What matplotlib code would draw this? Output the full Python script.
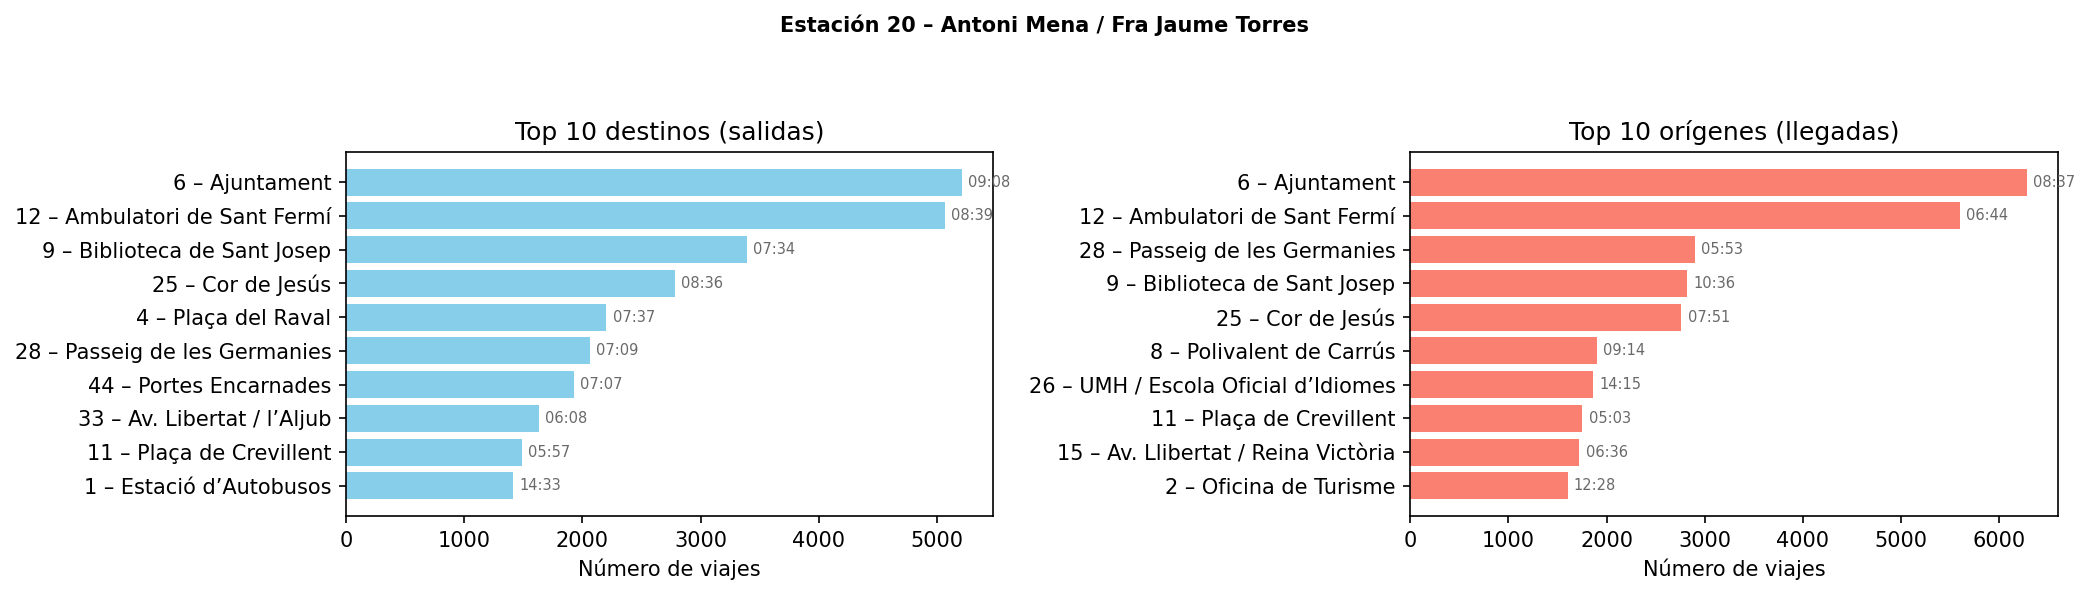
import matplotlib
matplotlib.use('Agg')
import matplotlib.pyplot as plt

# top 10 destinations (departures) from station 20
dest_names = ['6 – Ajuntament', '12 – Ambulatori de Sant Fermí', '9 – Biblioteca de Sant Josep',
              '25 – Cor de Jesús', '4 – Plaça del Raval', '28 – Passeig de les Germanies',
              '44 – Portes Encarnades', '33 – Av. Libertat / l’Aljub', '11 – Plaça de Crevillent',
              '1 – Estació d’Autobusos']
dest_trips = [5210, 5068, 3394, 2779, 2203, 2061, 1926, 1631, 1485, 1411]
dest_times = ['09:08', '08:39', '07:34', '08:36', '07:37', '07:09', '07:07', '06:08', '05:57', '14:33']

# top 10 origins (arrivals)
orig_names = ['6 – Ajuntament', '12 – Ambulatori de Sant Fermí', '28 – Passeig de les Germanies',
              '9 – Biblioteca de Sant Josep', '25 – Cor de Jesús', '8 – Polivalent de Carrús',
              '26 – UMH / Escola Oficial d’Idiomes', '11 – Plaça de Crevillent',
              '15 – Av. Llibertat / Reina Victòria', '2 – Oficina de Turisme']
orig_trips = [6283, 5598, 2897, 2817, 2763, 1899, 1867, 1755, 1724, 1603]
orig_times = ['08:37', '06:44', '05:53', '10:36', '07:51', '09:14', '14:15', '05:03', '06:36', '12:28']


def draw_panel(ax, names, trips, times, color, title):
    ypos = list(range(len(names)))
    ax.barh(ypos, trips, color=color)
    ax.set_yticks(ypos)
    ax.set_yticklabels(names)
    ax.invert_yaxis()
    off = max(trips) * 0.01
    for y, v, t in zip(ypos, trips, times):
        ax.text(v + off, y, t, va='center', ha='left', fontsize=7, color='dimgray')
    ax.set_title(title)
    ax.set_xlabel('Número de viajes')


fig = plt.figure(figsize=(2089 / 150, 594 / 150), dpi=150)
ax1 = fig.add_axes([0.1656, 0.1313, 0.3097, 0.6127])
ax2 = fig.add_axes([0.675, 0.1313, 0.3102, 0.6127])

draw_panel(ax1, dest_names, dest_trips, dest_times, 'skyblue', 'Top 10 destinos (salidas)')
draw_panel(ax2, orig_names, orig_trips, orig_times, 'salmon', 'Top 10 orígenes (llegadas)')

fig.suptitle('Estación 20 – Antoni Mena / Fra Jaume Torres', fontsize=10, fontweight='bold', y=0.975)

fig.savefig('out.png', dpi=150)
plt.close(fig)
